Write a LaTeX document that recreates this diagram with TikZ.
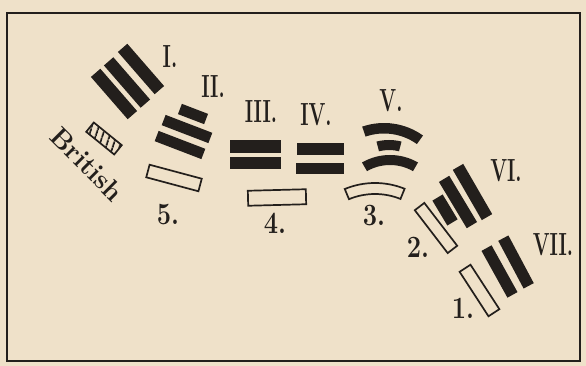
\documentclass[tikz,border=0pt]{standalone}
\usetikzlibrary{patterns.meta}
\definecolor{paper}{HTML}{EFE1C9}
\definecolor{ink}{HTML}{231F1C}
% curved band: style, centre, outer radius, inner radius, start, end
\newcommand{\bandarc}[6]{%
  \path[#1] ([shift={(#5:#3)}]#2) arc[start angle=#5, end angle=#6, radius=#3]
    -- ([shift={(#6:#4)}]#2) arc[start angle=#6, end angle=#5, radius=#4] -- cycle;}

\begin{document}
\begin{tikzpicture}[x=1pt,y=1pt,
    bar/.style={fill=ink, inner sep=0pt, minimum height=12.5pt},
    hollow/.style={draw=ink, line width=1.7pt, inner sep=0pt, minimum height=12pt},
    numeral/.style={font=\fontsize{32}{32}\selectfont\bfseries, text=ink, inner sep=0pt, xscale=0.62},
    digit/.style={font=\fontsize{31}{31}\selectfont\bfseries, text=ink, inner sep=0pt, xscale=0.82}
]
    \fill[paper] (0,0) rectangle (586,366);
    \useasboundingbox (0,0) rectangle (586,366);
    \draw[ink, line width=1.8pt] (7,5) rectangle (580,353);

    % group I
    \node[bar, minimum width=56pt, rotate=-49] (i1) at (114,272) {};
    \node[bar, minimum width=56pt, rotate=-49] (i2) at (127,283.5) {};
    \node[bar, minimum width=56pt, rotate=-49] (i3) at (141,297) {};
    \node[numeral] (lI) at (170,309) {I.};

    % British
    \node[draw=ink, line width=1.7pt, minimum width=36pt, minimum height=12pt, inner sep=0pt, rotate=-39,
          pattern={Lines[angle=72,distance=6.5pt,line width=2.2pt]}, pattern color=ink] (brit) at (104,227.5) {};
    \node[font=\fontsize{27}{27}\selectfont\bfseries, text=ink, rotate=-45] (lbrit) at (87,202) {British};

    % group II
    \node[bar, minimum width=28pt, minimum height=11pt, rotate=-21] (ii1) at (193,252) {};
    \node[bar, minimum width=50pt, minimum height=11pt, rotate=-21] (ii2) at (187,237) {};
    \node[bar, minimum width=50pt, minimum height=11pt, rotate=-21] (ii3) at (180,221) {};
    \node[numeral] (lII) at (213,279) {II.};
    \node[hollow, minimum width=54pt, minimum height=13pt, rotate=-15] (h5) at (174,188) {};
    \node[digit] (l5) at (168,151) {5.};

    % group III
    \node[bar, minimum width=51pt, minimum height=13pt] (iii1) at (255.5,219.5) {};
    \node[bar, minimum width=51pt, minimum height=12pt] (iii2) at (255,202.5) {};
    \node[numeral] (lIII) at (261,254) {III.};

    % group IV
    \node[bar, minimum width=47pt, minimum height=11.5pt] (iv1) at (320,217) {};
    \node[bar, minimum width=48pt, minimum height=11.5pt] (iv2) at (320,197.7) {};
    \node[numeral] (lIV) at (316,251) {IV.};
    \node[hollow, minimum width=58pt, minimum height=15pt, rotate=1.5] (h4) at (277,168.5) {};
    \node[digit] (l4) at (275,143) {4.};

    % group V
    \coordinate (vtop) at (384,176);
    \coordinate (vmid) at (389,176);
    \coordinate (vlow) at (390,155);
    \coordinate (harc) at (375,104);
    \bandarc{fill=ink}{vtop}{67}{56.5}{54.4}{109}
    \bandarc{fill=ink}{vmid}{50}{40}{75.5}{104.5}
    \bandarc{fill=ink}{vlow}{56}{46}{60}{120}
    \bandarc{draw=ink, line width=1.7pt}{harc}{79}{68}{68}{112.5}
    \node[numeral] (lV) at (391,265) {V.};
    \node[digit] (l3) at (374,150) {3.};

    % group VI
    \node[bar, minimum width=29pt, minimum height=12pt, rotate=-59] (vi1) at (445,156) {};
    \node[bar, minimum width=54pt, minimum height=12pt, rotate=-59] (vi2) at (458,164) {};
    \node[bar, minimum width=58pt, minimum height=12pt, rotate=-60] (vi3) at (472.5,174) {};
    \node[numeral] (lVI) at (506,195) {VI.};
    \node[hollow, minimum width=54pt, rotate=-52.5] (h2) at (436,138) {};
    \node[digit] (l2) at (418,119) {2.};

    % group VII
    \node[bar, minimum width=53.5pt, minimum height=11.5pt, rotate=-61] (vii1) at (499.5,94.5) {};
    \node[bar, minimum width=54pt, minimum height=11.5pt, rotate=-62] (vii2) at (516,104) {};
    \node[numeral] (lVII) at (553,121) {VII.};
    \node[hollow, minimum width=53pt, minimum height=13pt, rotate=-57] (h1) at (479.5,75.5) {};
    \node[digit] (l1) at (463,58) {1.};
\end{tikzpicture}
\end{document}
